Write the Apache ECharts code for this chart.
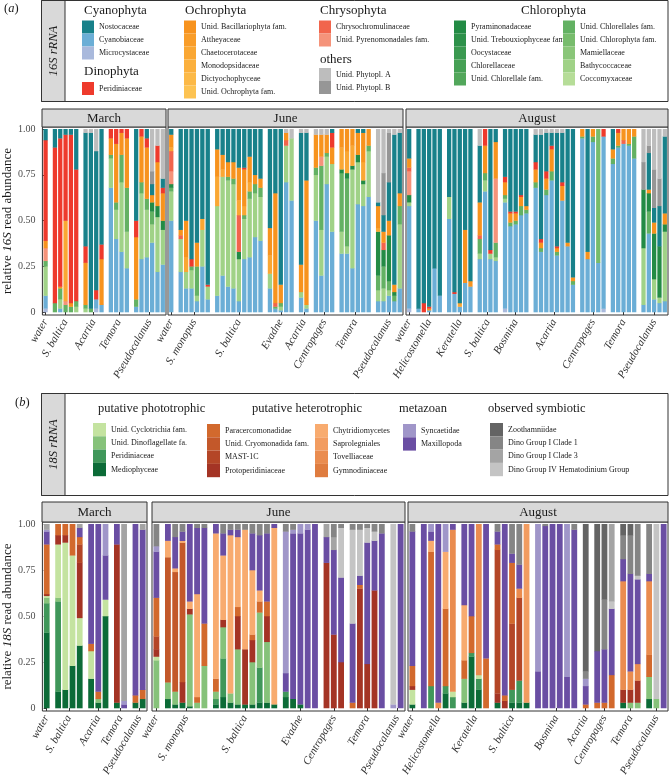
<!DOCTYPE html>
<html><head><meta charset="utf-8">
<script src="https://cdn.jsdelivr.net/npm/echarts/dist/echarts.min.js"></script>
<style>html,body{margin:0;padding:0;background:#fff}#c{width:669px;height:780px}</style>
</head><body><div id="c"></div>
<script>
// ======================= DATA =======================
// ---- Panel (a): 16S rRNA — families in stacking order (bottom -> top)
const familiesA = ['Microcystaceae','Cyanobiaceae','Coccomyxaceae','Bathycoccaceae','Mamiellaceae','Unid. Chlorophyta fam.','Unid. Chlorellales fam.','Unid. Chlorellale fam.','Chlorellaceae','Oocystaceae','Unid. Trebouxiophyceae fam.','Pyraminonadaceae','Unid. Pyrenomonadales fam.','Chrysochromulinaceae','Unid. Ochrophyta fam.','Dictyochophyceae','Monodopsidaceae','Chaetocerotaceae','Attheyaceae','Unid. Bacillariophyta fam.','Peridiniaceae','Nostocaceae','Unid. Phytopl. B','Unid. Phytopl. A'];
const codeA = {lav:'Microcystaceae', blu:'Cyanobiaceae', lg:'Bathycoccaceae', cp:'Unid. Chlorophyta fam.', mg:'Unid. Chlorellales fam.', dg:'Pyraminonadaceae', sl:'Unid. Pyrenomonadales fam.', sa:'Chrysochromulinaceae', o2:'Chaetocerotaceae', or:'Unid. Bacillariophyta fam.', rd:'Peridiniaceae', tl:'Nostocaceae', gB:'Unid. Phytopl. B', gA:'Unid. Phytopl. A'};

const groupsA_March  = [['water',1],['S. baltica',5],['Acartia',4],['Temora',4],['Pseudocalanus',6]];
const groupsA_June   = [['water',1],['S. monopus',6],['S. baltica',9],['Evadne',5],['Acartia',2],['Centropages',4],['Temora',6],['Pseudocalanus',5]];
const groupsA_August = [['water',1],['Helicostomella',5],['Keratella',5],['S. baltica',4],['Bosmina',5],['Acartia',8],['Centropages',5],['Temora',5],['Pseudocalanus',5]];

const barsA_March = [
 {lav:.02,blu:.07,lg:.16,mg:.03,sl:.07,or:.04,rd:.55,tl:.06},
 {mg:.05,rd:.85,tl:.10},
 {blu:.02,lg:.05,mg:.06,or:.01,rd:.81,tl:.05},
 {mg:.04,sl:.02,o2:.44,rd:.47,tl:.03},
 {mg:.03,or:.02,rd:.92,tl:.03},
 {lg:.03,mg:.03,rd:.72,tl:.22},
 {lg:.02,mg:.02,or:.23,rd:.09,tl:.62,gA:.02},
 {mg:.02,tl:.96,gA:.02},
 {lav:.02,blu:.05,rd:.05,tl:.76,gA:.12},
 {blu:.04,or:.25,rd:.08,tl:.63},
 {blu:.68,lg:.16,mg:.02,or:.09,rd:.05},
 {blu:.40,lg:.16,mg:.04,or:.32,rd:.08},
 {blu:.33,lg:.38,mg:.15,or:.12,rd:.02},
 {blu:.24,lg:.20,mg:.24,or:.27,rd:.05},
 {blu:.03,mg:.04,or:.34,rd:.09,tl:.50},
 {blu:.29,lg:.36,mg:.06,or:.25,rd:.04},
 {blu:.30,lg:.26,mg:.06,or:.28,rd:.05,tl:.05},
 {blu:.38,lg:.10,mg:.07,dg:.05,or:.04,tl:.06,gB:.07,gA:.23},
 {blu:.22,lg:.30,dg:.06,or:.24,rd:.09,gA:.09},
 {blu:.26,lg:.19,dg:.05,or:.15,rd:.03,tl:.05,gA:.27}
];
const barsA_June = [
 {blu:.50,lg:.16,mg:.02,dg:.02,sl:.07,sa:.11,o2:.02,or:.07,tl:.03},
 {blu:.22,lg:.18,sa:.02,or:.03,tl:.55},
 {blu:.13,lg:.09,o2:.08,or:.20,tl:.50},
 {blu:.13,lg:.10,mg:.02,rd:.04,tl:.71},
 {blu:.06,lg:.03,mg:.16,or:.13,tl:.62},
 {blu:.25,lg:.20,o2:.06,tl:.49},
 {blu:.07,lg:.07,rd:.01,tl:.85},
 {blu:.09,lg:.49,o2:.16,or:.15,tl:.11},
 {blu:.20,lg:.54,o2:.04,or:.08,tl:.14},
 {blu:.14,lg:.58,mg:.02,or:.08,tl:.18},
 {blu:.13,lg:.57,mg:.03,or:.09,tl:.18},
 {blu:.06,lg:.23,dg:.04,sa:.20,o2:.08,or:.18,tl:.21},
 {blu:.29,lg:.22,mg:.02,rd:.01,o2:.05,or:.20,tl:.21},
 {blu:.30,lg:.32,mg:.04,o2:.05,or:.14,tl:.15},
 {blu:.41,lg:.24,mg:.05,or:.05,tl:.25},
 {blu:.39,lg:.24,mg:.05,or:.05,tl:.27},
 {blu:.13,lg:.08,o2:.10,or:.15,tl:.54},
 {blu:.02,mg:.01,sa:.02,or:.60,tl:.35},
 {blu:.01,lg:.02,mg:.02,or:.10,tl:.85},
 {blu:.71,lg:.20,sa:.03,or:.04,gA:.02},
 {blu:.61,lg:.34,gA:.05},
 {blu:.08,lg:.03,or:.15,tl:.72,gA:.02},
 {blu:.02,lg:.02,or:.68,tl:.26,gA:.02},
 {blu:.50,lg:.25,mg:.04,or:.18,gA:.03},
 {blu:.20,lg:.25,mg:.35,sl:.05,or:.12,gA:.03},
 {blu:.70,lg:.15,mg:.02,or:.10,gA:.03},
 {blu:.44,lg:.37,or:.09,rd:.08,tl:.02},
 {blu:.32,lg:.12,mg:.32,dg:.02,o2:.12,or:.10},
 {blu:.32,lg:.04,mg:.37,dg:.03,o2:.12,or:.12},
 {blu:.24,lg:.54,dg:.02,o2:.11,or:.09},
 {blu:.59,lg:.23,dg:.04,or:.12,tl:.02},
 {blu:.58,lg:.12,dg:.02,o2:.10,or:.16,tl:.02},
 {blu:.63,lg:.25,mg:.03,or:.09},
 {blu:.06,lg:.06,mg:.08,dg:.24,o2:.02,or:.12,tl:.02,gA:.40},
 {blu:.06,lg:.07,mg:.12,dg:.09,sa:.04,or:.06,tl:.09,gB:.23,gA:.24},
 {blu:.09,lg:.03,mg:.05,dg:.25,or:.08,tl:.21,gB:.27,gA:.02},
 {blu:.06,mg:.03,dg:.02,or:.04,tl:.82,gA:.03},
 {blu:.13,lg:.35,mg:.10,or:.07,tl:.33,gA:.02}
];
const barsA_August = [
 {lav:.02,blu:.56,lg:.02,dg:.04,sl:.13,sa:.02,or:.05,tl:.16},
 {blu:.02,tl:.98},
 {rd:.05,tl:.95},
 {blu:.01,or:.01,rd:.01,tl:.97},
 {blu:.24,tl:.76},
 {blu:.09,tl:.91},
 {blu:.51,lg:.12,tl:.37},
 {blu:.10,rd:.01,tl:.89},
 {blu:.03,o2:.02,tl:.95},
 {blu:.16,or:.29,tl:.55},
 {blu:.14,or:.03,tl:.83},
 {blu:.29,lg:.03,mg:.08,sa:.02,or:.18,tl:.31,gA:.09},
 {blu:.66,lg:.06,mg:.04,or:.15,rd:.09},
 {blu:.29,lg:.03,rd:.02,tl:.66},
 {blu:.28,lg:.02,mg:.08,sl:.35,or:.20,tl:.07},
 {lav:.02,blu:.58,lg:.02,mg:.02,rd:.03,or:.07,tl:.26},
 {blu:.47,mg:.02,or:.05,rd:.01,tl:.45},
 {blu:.48,mg:.02,or:.04,rd:.01,tl:.45},
 {blu:.53,mg:.05,or:.05,rd:.01,tl:.36},
 {blu:.54,mg:.02,or:.02,tl:.42},
 {blu:.68,mg:.03,or:.07,rd:.04,tl:.15,gA:.03},
 {blu:.33,mg:.02,or:.03,rd:.02,tl:.57,gA:.03},
 {blu:.64,mg:.03,or:.06,rd:.04,tl:.21,gA:.02},
 {blu:.72,mg:.05,or:.12,rd:.02,tl:.07,gA:.02},
 {blu:.31,mg:.02,or:.02,rd:.01,tl:.62,gA:.02},
 {blu:.61,or:.08,rd:.02,tl:.27,gA:.02},
 {blu:.36,or:.02,tl:.62},
 {blu:.15,mg:.02,or:.02,tl:.81},
 {blu:.95,mg:.01,or:.04},
 {blu:.29,or:.04,tl:.67},
 {blu:.93,mg:.03,or:.04},
 {blu:.27,cp:.73},
 {lav:.02,blu:.94,rd:.04},
 {blu:.81,mg:.03,or:.05,tl:.11},
 {blu:.90,mg:.01,or:.07,rd:.02},
 {blu:.92,sa:.02,or:.06},
 {blu:.91,mg:.01,or:.08},
 {blu:.84,mg:.12,or:.04},
 {blu:.04,lg:.31,dg:.32,gB:.15,gA:.18},
 {blu:.43,mg:.12,dg:.10,or:.02,tl:.20,gB:.04,gA:.09},
 {blu:.07,lg:.11,dg:.25,or:.06,tl:.08,gB:.21,gA:.22},
 {blu:.05,lg:.03,dg:.28,tl:.22,gB:.15,gA:.27},
 {blu:.06,lg:.38,dg:.04,or:.06,tl:.42,gA:.04}
];

// ---- Panel (b): 18S rRNA — families in stacking order (bottom -> top)
const familiesB = ['Mediophyceae','Peridiniaceae','Unid. Dinoflagellate fa.','Unid. Cyclotrichia fam.','Protoperidiniaceae','MAST-1C','Unid. Cryomonadida fam.','Paracercomonadidae','Gymnodiniaceae','Tovelliaceae','Saprolegniales','Chytridiomycetes','Maxillopoda','Syncaetidae','Dino Group IV Hematodinium Group','Dino Group I Clade 3','Dino Group I Clade 1','Zoothamniidae'];
const codeB = {md:'Mediophyceae', pe:'Peridiniaceae', df:'Unid. Dinoflagellate fa.', cy:'Unid. Cyclotrichia fam.', pp:'Protoperidiniaceae', ma:'MAST-1C', cr:'Unid. Cryomonadida fam.', pc:'Paracercomonadidae', gy:'Gymnodiniaceae', tv:'Tovelliaceae', sp:'Saprolegniales', ch:'Chytridiomycetes', mx:'Maxillopoda', sy:'Syncaetidae', d4:'Dino Group IV Hematodinium Group', c3:'Dino Group I Clade 3', c1:'Dino Group I Clade 1', zo:'Zoothamniidae'};

const groupsB_March  = [['water',1],['S. baltica',4],['Acartia',3],['Temora',2],['Pseudocalanus',2]];
const groupsB_June   = [['water',1],['S. monopus',6],['S. baltica',9],['Evadne',5],['Centropages',3],['Temora',5],['Pseudocalanus',2]];
const groupsB_August = [['water',1],['Helicostomella',5],['Keratella',4],['S. baltica',5],['Bosmina',6],['Acartia',1],['Centropages',3],['Temora',3],['Pseudocalanus',3]];

const barsB_March = [
 {md:.41,pe:.16,df:.03,cy:.01,pp:.01,pc:.27,mx:.07,sy:.01,c3:.03},
 {md:.09,pe:.49,df:.02,cy:.29,pp:.05,pc:.06},
 {md:.10,cy:.80,pp:.04,pc:.06},
 {md:.23,cy:.60,pc:.17},
 {md:.34,cy:.15,pp:.30,ma:.10,pc:.04,mx:.05,c3:.02},
 {md:.16,cy:.15,pc:.04,mx:.65},
 {md:.03,df:.02,pc:.04,mx:.91},
 {md:.50,cy:.09,mx:.24,sy:.17},
 {md:.03,pp:.86,mx:.11},
 {mx:.02,sy:.02,c3:.96},
 {md:.03,pc:.04,mx:.93},
 {md:.05,pc:.05,mx:.87,c3:.03}
];
const barsB_June = [
 {df:.26,cy:.02,pp:.04,ma:.07,pc:.21,mx:.25,sy:.03,c1:.12},
 {md:.05,df:.09,cr:.68,ch:.09,mx:.09},
 {md:.02,df:.07,cr:.65,ch:.02,mx:.17,c1:.07},
 {md:.03,pp:.11,cr:.75,ch:.01,mx:.05,c1:.04},
 {md:.01,df:.50,pp:.03,ch:.04,mx:.42},
 {df:.03,pc:.03,ch:.56,mx:.36,c1:.02},
 {df:.23,pc:.23,mx:.52,c1:.02},
 {md:.02,pe:.03,df:.04,pc:.07,ch:.79,mx:.05},
 {md:.06,pe:.21,df:.17,pp:.04,ch:.35,mx:.12,c1:.05},
 {md:.03,df:.05,ch:.86,mx:.03,c1:.03},
 {md:.02,df:.30,pp:.18,pc:.05,ch:.38,mx:.04,c1:.03},
 {md:.02,pp:.30,ch:.65,c1:.03},
 {md:.02,df:.23,pp:.12,pc:.03,ch:.35,mx:.20,c1:.05},
 {md:.03,pe:.19,df:.30,pc:.06,ch:.06,mx:.30,c1:.06},
 {md:.03,df:.33,pp:.14,pc:.08,mx:.37,c1:.05},
 {md:.02,ch:.96,mx:.02},
 {md:.06,pe:.03,mx:.10,sy:.77,c1:.04},
 {md:.05,mx:.90,sy:.02,c1:.03},
 {md:.02,mx:.93,sy:.05},
 {mx:.97,sy:.03},
 {mx:1},
 {pp:.79,mx:.14,c3:.07},
 {pp:.40,mx:.46,c3:.07,c1:.07},
 {pp:.25,mx:.46,d4:.27,c1:.02},
 {pc:.03,mx:.43,d4:.51,c1:.03},
 {pp:.65,pc:.02,mx:.05,d4:.25,c1:.03},
 {pp:.24,mx:.66,d4:.08,c1:.02},
 {pp:.64,mx:.27,d4:.05,c1:.04},
 {mx:.95,c1:.05},
 {sy:.02,d4:.98},
 {mx:1}
];
const barsB_August = [
 {md:.02,cy:.08,pp:.02,pc:.11,mx:.73,c1:.04},
 {mx:1},
 {pe:.12,pc:.73,ch:.06,mx:.05,sy:.04},
 {tv:.03,mx:.97},
 {md:.08,pe:.04,pc:.42,ch:.31,sy:.15},
 {pe:.06,cy:.03,tv:.88,mx:.03},
 {md:.03,df:.13,pc:.10,ch:.30,mx:.44},
 {md:.28,pe:.02,pc:.20,mx:.50},
 {md:.10,pe:.06,cy:.02,tv:.82},
 {pc:.27,mx:.73},
 {md:.03,pp:.05,ma:.78,pc:.03,mx:.07,c1:.04},
 {pp:.04,pc:.03,mx:.93},
 {md:.03,pe:.07,ma:.36,pc:.33,mx:.05,c1:.16},
 {md:.03,pe:.12,ma:.45,tv:.05,mx:.13,c1:.22},
 {md:.03,sp:.97},
 {mx:.20,sy:.80},
 {mx:.99,c1:.01},
 {mx:1},
 {mx:1},
 {mx:.17,sy:.83},
 {mx:.97,c1:.03},
 {pc:.02,mx:.10,sy:.04,c1:.04,zo:.80},
 {pc:.03,mx:.28,zo:.69},
 {pc:.03,mx:.29,c1:.27,zo:.41},
 {pc:.18,mx:.36,d4:.04,c3:.42},
 {md:.03,pp:.07,tv:.59,mx:.12,c1:.13,zo:.06},
 {df:.03,pp:.07,tv:.10,mx:.53,c1:.21,zo:.06},
 {df:.03,pp:.12,tv:.09,mx:.46,d4:.02,c1:.28},
 {md:.05,df:.12,pc:.12,tv:.40,mx:.04,c1:.27},
 {df:.05,d4:.95},
 {mx:1}
];

// Legend columns (text only)
const legA = {
  Cyanophyta: ['Nostocaceae','Cyanobiaceae','Microcystaceae'],
  Dinophyta: ['Peridiniaceae'],
  Ochrophyta: ['Unid. Bacillariophyta fam.','Attheyaceae','Chaetocerotaceae','Monodopsidaceae','Dictyochophyceae','Unid. Ochrophyta fam.'],
  Chrysophyta: ['Chrysochromulinaceae','Unid. Pyrenomonadales fam.'],
  others: ['Unid. Phytopl. A','Unid. Phytopl. B'],
  Chloro1: ['Pyraminonadaceae','Unid. Trebouxiophyceae fam.','Oocystaceae','Chlorellaceae','Unid. Chlorellale fam.'],
  Chloro2: ['Unid. Chlorellales fam.','Unid. Chlorophyta fam.','Mamiellaceae','Bathycoccaceae','Coccomyxaceae']
};
const legB = {
  photo: ['Unid. Cyclotrichia fam.','Unid. Dinoflagellate fa.','Peridiniaceae','Mediophyceae'],
  het1: ['Paracercomonadidae','Unid. Cryomonadida fam.','MAST-1C','Protoperidiniaceae'],
  het2: ['Chytridiomycetes','Saprolegniales','Tovelliaceae','Gymnodiniaceae'],
  meta: ['Syncaetidae','Maxillopoda'],
  sym: ['Zoothamniidae','Dino Group I Clade 1','Dino Group I Clade 3','Dino Group IV Hematodinium Group']
};
const yTicks = [0, 0.25, 0.5, 0.75, 1];

// ======================= STYLES / LAYOUT =======================
const FONT = '"Liberation Serif","Times New Roman",serif';
const colorA = {
 'Nostocaceae':'#18818a','Cyanobiaceae':'#6baed6','Microcystaceae':'#a9b9dc','Peridiniaceae':'#ee3a2c',
 'Unid. Bacillariophyta fam.':'#f7931e','Attheyaceae':'#f99d29','Chaetocerotaceae':'#faa733','Monodopsidaceae':'#fbb03d','Dictyochophyceae':'#fcb947','Unid. Ochrophyta fam.':'#fdc352',
 'Chrysochromulinaceae':'#f1654c','Unid. Pyrenomonadales fam.':'#f5937a',
 'Unid. Phytopl. A':'#bdbdbd','Unid. Phytopl. B':'#969696',
 'Pyraminonadaceae':'#238b45','Unid. Trebouxiophyceae fam.':'#2d914a','Oocystaceae':'#3a9950','Chlorellaceae':'#46a055','Unid. Chlorellale fam.':'#52a75b',
 'Unid. Chlorellales fam.':'#63b163','Unid. Chlorophyta fam.':'#77bc6c','Mamiellaceae':'#8ac679','Bathycoccaceae':'#a0d287','Coccomyxaceae':'#b6dd98'
};
const colorB = {
 'Unid. Cyclotrichia fam.':'#c4e3a0','Unid. Dinoflagellate fa.':'#86c27a','Peridiniaceae':'#40975a','Mediophyceae':'#0c6b37',
 'Paracercomonadidae':'#d2692d','Unid. Cryomonadida fam.':'#c3582a','MAST-1C':'#b44627','Protoperidiniaceae':'#a43425',
 'Chytridiomycetes':'#f8ab6f','Saprolegniales':'#f29c60','Tovelliaceae':'#ea8c4f','Gymnodiniaceae':'#df7c3f',
 'Syncaetidae':'#a096c9','Maxillopoda':'#6a4ea3',
 'Zoothamniidae':'#646464','Dino Group I Clade 1':'#858585','Dino Group I Clade 3':'#a4a4a4','Dino Group IV Hematodinium Group':'#c4c4c4'
};
const facets = [
 {p:'a', month:'March',  left:42,  width:124, top:127, height:188, stripTop:109, gap:0.75, groups:groupsA_March,  bars:barsA_March},
 {p:'a', month:'June',   left:168, width:235, top:127, height:188, stripTop:109, gap:0.75, groups:groupsA_June,   bars:barsA_June},
 {p:'a', month:'August', left:406, width:262, top:127, height:188, stripTop:109, gap:0.75, groups:groupsA_August, bars:barsA_August},
 {p:'b', month:'March',  left:42,  width:105, top:522, height:189, stripTop:502, gap:0.58, groups:groupsB_March,  bars:barsB_March},
 {p:'b', month:'June',   left:152, width:253, top:522, height:189, stripTop:502, gap:0.58, groups:groupsB_June,   bars:barsB_June},
 {p:'b', month:'August', left:408, width:260, top:522, height:189, stripTop:502, gap:0.58, groups:groupsB_August, bars:barsB_August}
];
const yPadTop = 2, yPadBot = 3; // px between panel border and the 1.00 / 0 positions
const BAR_W = 0.8;               // bar width as fraction of one sample slot

function layoutPositions(groups, gap) {
  const pos = [], centers = [];
  let x = 0;
  groups.forEach(([lab, n]) => {
    for (let i = 0; i < n; i++) pos.push(x + i);
    centers.push({lab, c: x + (n - 1) / 2});
    x += n + gap;
  });
  return {pos, centers, last: pos[pos.length - 1]};
}

function makeRender(color) {
  return function (params, api) {
    const x = api.value(0), y0 = api.value(1), y1 = api.value(2);
    const a = api.coord([x - BAR_W / 2, y1]);
    const b = api.coord([x + BAR_W / 2, y0]);
    return {type:'rect', shape:{x:a[0], y:a[1], width:b[0] - a[0], height:b[1] - a[1] + 0.3}, style:{fill:color}};
  };
}

const grids = [], xAxes = [], yAxes = [], series = [], graphics = [];
facets.forEach((f, gi) => {
  const L = layoutPositions(f.groups, f.gap);
  if (L.pos.length !== f.bars.length) console.error('bar count mismatch', f.p, f.month, L.pos.length, f.bars.length);
  const xmin = -0.6, xmax = L.last + 0.6;
  const unit = f.height - yPadTop - yPadBot;
  grids.push({left:f.left, top:f.top, width:f.width, height:f.height, show:true, borderColor:'#333', borderWidth:1, backgroundColor:'#fff', containLabel:false});
  const cvals = L.centers.map(c => c.c);
  xAxes.push({type:'value', gridIndex:gi, min:xmin, max:xmax, splitLine:{show:false}, axisLine:{show:false},
    axisTick:{show:true, customValues:cvals, length:3, lineStyle:{color:'#333'}},
    axisLabel:{customValues:cvals, rotate:60, margin:5, fontFamily:FONT, fontSize:11, fontStyle:'italic', color:'#333',
      formatter: v => { const c = L.centers.find(k => Math.abs(k.c - v) < 1e-6); return c ? c.lab : ''; }}});
  const isFirst = f.month === 'March';
  const ya = {type:'value', gridIndex:gi, min:-yPadBot/unit, max:1 + yPadTop/unit, splitLine:{show:false}, axisLine:{show:false},
    axisTick:{show:isFirst, customValues:yTicks, length:3, lineStyle:{color:'#333'}},
    axisLabel:{show:isFirst, customValues:yTicks, margin:7, fontFamily:FONT, fontSize:10, color:'#4d4d4d',
      formatter: v => v === 0 ? '0' : v.toFixed(2)}};
  if (isFirst) {
    ya.name = '{n|relative }{i|' + (f.p === 'a' ? '16S' : '18S') + '}{n| read abundance}';
    ya.nameLocation = 'middle'; ya.nameGap = 22; ya.nameRotate = 90;
    ya.nameTextStyle = {rich:{n:{fontFamily:FONT, fontSize:13, color:'#1a1a1a'}, i:{fontFamily:FONT, fontSize:13, fontStyle:'italic', color:'#1a1a1a'}}};
  }
  yAxes.push(ya);
  const fams = f.p === 'a' ? familiesA : familiesB;
  const codes = f.p === 'a' ? codeA : codeB;
  const cols = f.p === 'a' ? colorA : colorB;
  // relative abundances per bar (normalised to a total of 1)
  const norm = f.bars.map(b => { let s = 0; for (const k in b) s += b[k]; const o = {}; for (const k in b) o[codes[k]] = b[k] / s; return o; });
  const base = f.bars.map(() => 0);
  fams.forEach(fam => {
    const data = [];
    norm.forEach((o, i) => { const v = o[fam] || 0; if (v > 0) { data.push([L.pos[i], base[i], base[i] + v]); base[i] += v; } });
    series.push({type:'custom', name:f.p + '|' + fam, xAxisIndex:gi, yAxisIndex:gi, silent:true, clip:true,
      itemStyle:{color:cols[fam]}, encode:{x:0, y:[1, 2]}, data:data, renderItem:makeRender(cols[fam])});
  });
  // facet strip
  graphics.push({type:'rect', shape:{x:f.left, y:f.stripTop, width:f.width, height:f.top - f.stripTop}, style:{fill:'#d9d9d9', stroke:'#333', lineWidth:1}, z:10});
  graphics.push({type:'text', x:f.left + f.width / 2, y:(f.stripTop + f.top) / 2 + 1, style:{text:f.month, fontFamily:FONT, fontSize:13, fill:'#1a1a1a', align:'center', verticalAlign:'middle'}, z:11});
});

// legend boxes
function box(y, h, label, tag, lx, ly) {
  graphics.push({type:'rect', shape:{x:41.5, y:y, width:626.5, height:h}, style:{fill:'#fff', stroke:'#333', lineWidth:1}, z:1});
  graphics.push({type:'rect', shape:{x:41.5, y:y, width:23.5, height:h}, style:{fill:'#d9d9d9', stroke:'#333', lineWidth:1}, z:2});
  graphics.push({type:'text', x:53.5, y:y + h / 2, rotation:Math.PI / 2, style:{text:'{i|' + label + '}', rich:{i:{fontStyle:'italic', fontFamily:FONT, fontSize:12.5, fill:'#1a1a1a'}}, align:'center', verticalAlign:'middle'}, z:3});
  graphics.push({type:'text', x:lx, y:ly, style:{text:'({i|' + tag + '})', rich:{i:{fontStyle:'italic', fontFamily:FONT, fontSize:12.5, fill:'#1a1a1a'}}, fontFamily:FONT, fontSize:12.5, fill:'#1a1a1a', verticalAlign:'middle'}, z:3});
}
box(0.5, 101, '16S rRNA', 'a', 4, 9);
box(393.5, 102, '18S rRNA', 'b', 15, 403);

function header(t, x, y, size) {
  graphics.push({type:'text', x:x, y:y, style:{text:t, fontFamily:FONT, fontSize:size, fill:'#1a1a1a', verticalAlign:'middle'}, z:5});
}
header('Cyanophyta', 84, 11, 13); header('Dinophyta', 84, 72, 13); header('Ochrophyta', 185, 11, 13);
header('Chrysophyta', 320, 11, 13); header('others', 320, 60, 13); header('Chlorophyta', 521, 11, 13);
header('putative phototrophic', 98, 409, 12.5); header('putative heterotrophic', 252, 409, 12.5);
header('metazoan', 399, 409, 12.5); header('observed symbiotic', 488, 409, 12.5);

function legendCol(p, names, left, top, iw, ih) {
  return {show:true, orient:'vertical', left:left, top:top, padding:0, itemGap:0, itemWidth:iw, itemHeight:ih,
    icon:'rect', selectedMode:false, z:6, data:names.map(n => p + '|' + n), formatter:n => n.slice(2),
    textStyle:{fontFamily:FONT, fontSize:8, color:'#1a1a1a'}};
}
const legends = [
  legendCol('a', legA.Cyanophyta, 82, 20.5, 12, 13),
  legendCol('a', legA.Dinophyta, 82, 82, 12, 13),
  legendCol('a', legA.Ochrophyta, 184, 20.5, 12, 13),
  legendCol('a', legA.Chrysophyta, 319, 20.5, 12, 13),
  legendCol('a', legA.others, 319, 68, 12, 13),
  legendCol('a', legA.Chloro1, 454, 20.5, 12, 13),
  legendCol('a', legA.Chloro2, 563, 20.5, 12, 13),
  legendCol('b', legB.photo, 93, 423, 13, 13.3),
  legendCol('b', legB.het1, 207, 424, 13, 13.3),
  legendCol('b', legB.het2, 315, 424, 13, 13.3),
  legendCol('b', legB.meta, 403, 424, 13, 13.3),
  legendCol('b', legB.sym, 490, 423, 13, 13.3)
];

const chart = echarts.init(document.getElementById('c'), null, {renderer:'canvas'});
chart.setOption({
  animation:false, backgroundColor:'#fff',
  grid:grids, xAxis:xAxes, yAxis:yAxes, series:series, legend:legends, graphic:graphics
});
</script></body></html>
